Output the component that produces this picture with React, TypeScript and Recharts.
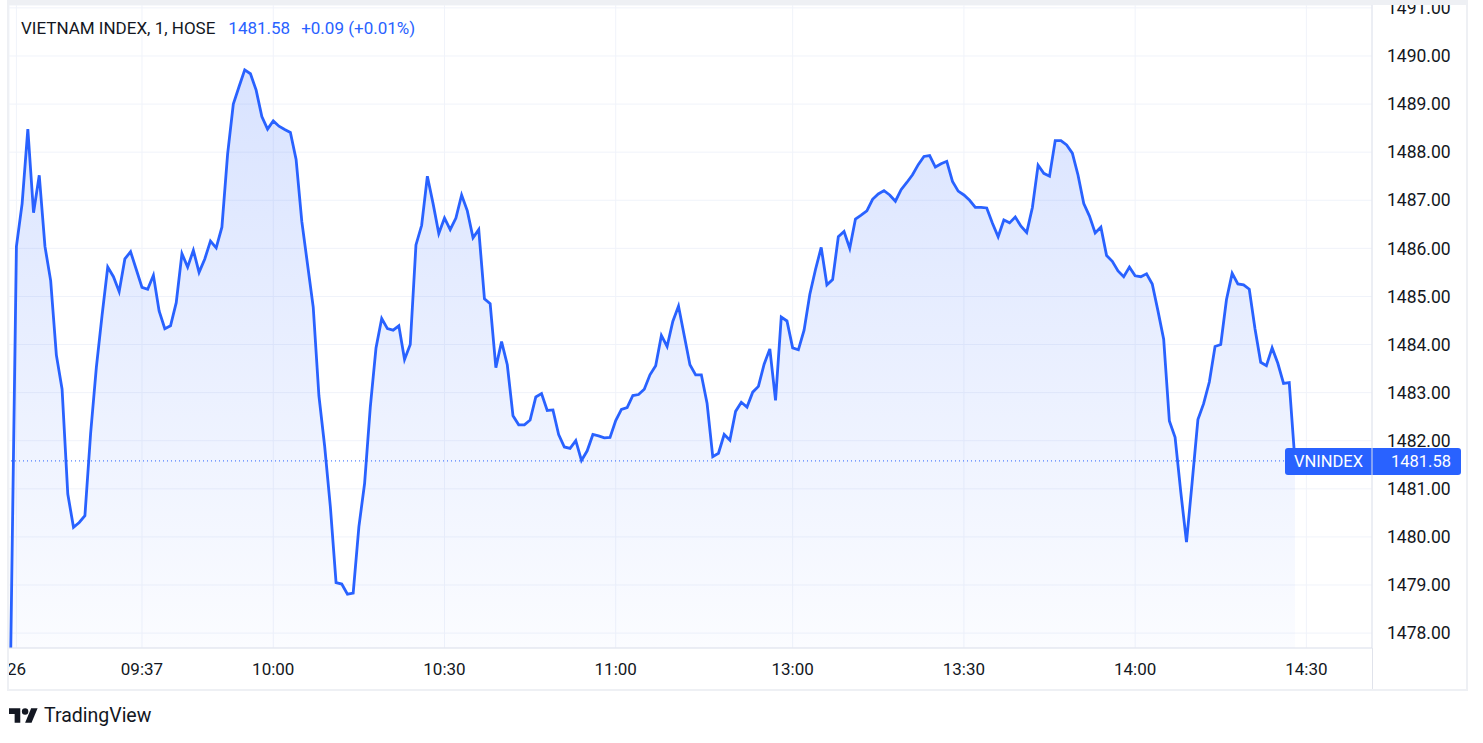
import { ComposedChart, Area, XAxis, YAxis, CartesianGrid, ReferenceLine } from "recharts";

// 1-minute closes of VN-Index, one per bar. Bar 0 = 09:15 open, bar -1 is the
// pre-open print that dips below the visible range.
const closes = [
  1477.6, 1486.04, 1486.93, 1488.48, 1486.74, 1487.52, 1486.04, 1485.33, 1483.78, 1483.07,
  1480.89, 1480.2, 1480.3, 1480.44, 1482.15, 1483.52, 1484.6, 1485.61, 1485.41, 1485.1,
  1485.78, 1485.93, 1485.56, 1485.19, 1485.15, 1485.44, 1484.7, 1484.33, 1484.39, 1484.87,
  1485.89, 1485.61, 1485.96, 1485.5, 1485.78, 1486.15, 1486.01, 1486.44, 1487.96, 1489.0,
  1489.36, 1489.71, 1489.63, 1489.29, 1488.74, 1488.48, 1488.65, 1488.54, 1488.47, 1488.41,
  1487.85, 1486.56, 1485.67, 1484.78, 1482.93, 1481.89, 1480.63, 1479.05, 1479.02, 1478.81,
  1478.83, 1480.21, 1481.11, 1482.7, 1483.93, 1484.54, 1484.33, 1484.3, 1484.39, 1483.69,
  1484.0, 1486.07, 1486.48, 1487.5, 1486.93, 1486.31, 1486.63, 1486.39, 1486.63, 1487.11,
  1486.78, 1486.22, 1486.39, 1484.95, 1484.85, 1483.52, 1484.06, 1483.58, 1482.52, 1482.33,
  1482.33, 1482.43, 1482.91, 1482.98, 1482.63, 1482.64, 1482.13, 1481.87, 1481.84, 1482.0,
  1481.59, 1481.79, 1482.13, 1482.1, 1482.06, 1482.07, 1482.42, 1482.65, 1482.69, 1482.94,
  1482.96, 1483.07, 1483.37, 1483.56, 1484.19, 1483.96, 1484.48, 1484.8, 1484.19, 1483.58,
  1483.37, 1483.37, 1482.78, 1481.67, 1481.74, 1482.13, 1482.01, 1482.61, 1482.8, 1482.7,
  1483.01, 1483.13, 1483.59, 1483.91, 1482.84, 1484.57, 1484.49, 1483.93, 1483.89, 1484.3,
  1485.04, 1485.56, 1486.02, 1485.24, 1485.35, 1486.24, 1486.35, 1486.0, 1486.61, 1486.69,
  1486.78, 1487.02, 1487.13, 1487.2, 1487.11, 1486.98, 1487.22, 1487.37, 1487.53, 1487.74,
  1487.91, 1487.93, 1487.69, 1487.76, 1487.81, 1487.39, 1487.19, 1487.11, 1487.0, 1486.85,
  1486.85, 1486.84, 1486.52, 1486.24, 1486.59, 1486.53, 1486.65, 1486.46, 1486.33, 1486.85,
  1487.73, 1487.56, 1487.5, 1488.24, 1488.24, 1488.15, 1487.98, 1487.52, 1486.93, 1486.67,
  1486.32, 1486.44, 1485.85, 1485.73, 1485.53, 1485.41, 1485.61, 1485.43, 1485.41, 1485.47,
  1485.26, 1484.7, 1484.11, 1482.41, 1482.07, 1480.93, 1479.89, 1481.15, 1482.44, 1482.77,
  1483.22, 1483.96, 1484.0, 1484.93, 1485.48, 1485.26, 1485.24, 1485.15, 1484.33, 1483.63,
  1483.56, 1483.93, 1483.61, 1483.19, 1483.21, 1481.58,
];
const FIRST_BAR = -1;

// time axis labels sit on these bars (11:30-13:00 lunch break is skipped)
const tickBars = [0, 22, 45, 75, 105, 136, 166, 196, 226];
const tickLabels = ["26", "09:37", "10:00", "10:30", "11:00", "13:00", "13:30", "14:00", "14:30"];
const priceTicks = [1478, 1479, 1480, 1481, 1482, 1483, 1484, 1485, 1486, 1487, 1488, 1489, 1490, 1491];

const LAST = 1481.58;
const CHANGE = "+0.09 (+0.01%)";

const C = {
  blue: "#2962FF",
  ink: "#131722",
  grid: "#f0f3fa",
  border: "#e0e3eb",
  frame: "#eef0f4",
};
const FONT = "'Trebuchet MS', Roboto, sans-serif";

const data = closes.map((close, i) => ({ bar: i + FIRST_BAR, close }));

function LastPriceTag(props: any) {
  const vb = props.viewBox;
  if (!vb) return null;
  const right = vb.x + vb.width;
  const y = vb.y;
  return (
    <g>
      <rect x={right - 87} y={y - 13} width={176} height={27} rx={3} fill={C.blue} />
      <text x={right - 78} y={y} dy="0.36em" fill="#fff" fontSize={16.5} fontFamily={FONT}>VNINDEX</text>
      <text x={right + 79} y={y} dy="0.36em" textAnchor="end" fill="#fff" fontSize={16.5} fontFamily={FONT}>
        {LAST.toFixed(2)}
      </text>
    </g>
  );
}

function Logo() {
  return (
    <div style={{ position: "absolute", left: 9, top: 704, display: "flex", alignItems: "center", gap: 6 }}>
      <svg width={29} height={15} viewBox="0 4 36 18">
        <path d="M14 22H7V11H0V4h14v18z" fill={C.ink} />
        <circle cx={20} cy={8} r={4} fill={C.ink} />
        <path d="M28 22h-8l7.5-18h8z" fill={C.ink} />
      </svg>
      <span style={{ fontSize: 19.5, color: C.ink, fontFamily: FONT }}>TradingView</span>
    </div>
  );
}

export default function App() {
  return (
    <div style={{ position: "absolute", left: 0, top: 0, width: 1483, height: 743, background: "#fff", fontFamily: FONT }}>
      <div style={{ position: "absolute", left: 7, top: 0, width: 1461, height: 691, boxSizing: "border-box",
        borderStyle: "solid", borderColor: C.frame, borderWidth: "5px 2px 2px 2px" }} />
      <div style={{ position: "absolute", left: 9, top: 5 }}>
        <ComposedChart width={1458} height={684} data={data} margin={{ top: 0, right: 0, bottom: 0, left: 0 }}>
          <defs>
            <linearGradient id="fillGrad" x1="0" y1="0" x2="0" y2="1">
              <stop offset="0%" stopColor={C.blue} stopOpacity={0.3} />
              <stop offset="100%" stopColor={C.blue} stopOpacity={0.03} />
            </linearGradient>
          </defs>
          <CartesianGrid stroke={C.grid} strokeWidth={1} />
          <XAxis type="number" dataKey="bar" domain={[-1.3, 237.5]} allowDataOverflow ticks={tickBars} interval={0}
            tickFormatter={(v: number) => tickLabels[tickBars.indexOf(v)] ?? ""}
            axisLine={{ stroke: C.border }} tickLine={false} tickSize={0} tickMargin={15} height={41}
            tick={{ fill: C.ink, fontSize: 17, fontFamily: FONT }} />
          <YAxis orientation="right" type="number" domain={[1477.69, 1491.06]} allowDataOverflow ticks={priceTicks}
            interval={0} tickFormatter={(v: number) => v.toFixed(2)} width={95}
            axisLine={{ stroke: C.border }} tickLine={false} tickSize={0} tickMargin={15}
            tick={{ fill: C.ink, fontSize: 17.5, fontFamily: FONT, textAnchor: "start" }} />
          <Area type="linear" dataKey="close" stroke={C.blue} strokeWidth={2.8} fill="url(#fillGrad)"
            dot={false} activeDot={false} isAnimationActive={false} />
          <ReferenceLine y={LAST} stroke={C.blue} strokeWidth={1} strokeDasharray="1 3"
            label={(p: any) => <LastPriceTag {...p} />} />
        </ComposedChart>
      </div>
      {/* separator between time axis and price axis */}
      <div style={{ position: "absolute", left: 1372, top: 648, width: 1, height: 41, background: C.border }} />
      <div style={{ position: "absolute", left: 21, top: 18, fontSize: 17, color: C.ink, whiteSpace: "nowrap" }}>
        VIETNAM INDEX, 1, HOSE
        <span style={{ color: C.blue, marginLeft: 13 }}>{LAST.toFixed(2)}</span>
        <span style={{ color: C.blue, marginLeft: 11 }}>{CHANGE}</span>
      </div>
      <Logo />
    </div>
  );
}
